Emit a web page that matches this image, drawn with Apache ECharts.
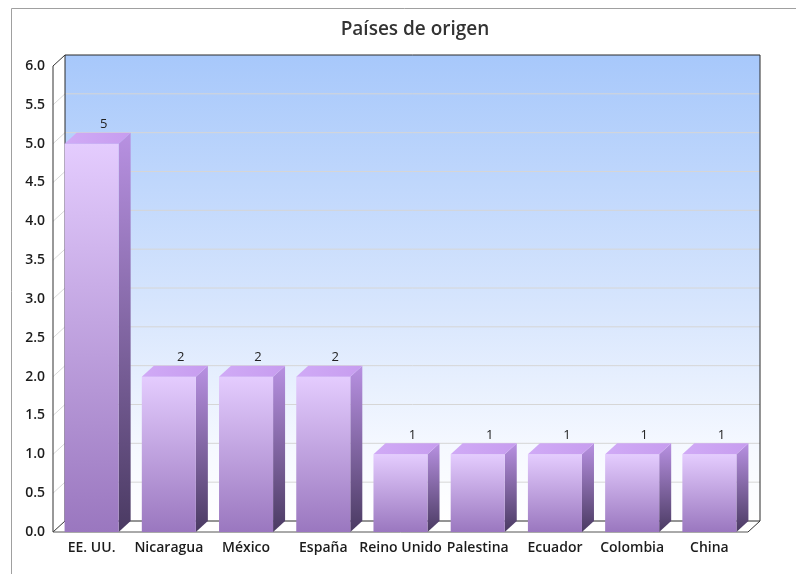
<!DOCTYPE html>
<html>
<head>
<meta charset="utf-8">
<script src="https://cdn.jsdelivr.net/npm/echarts@6/dist/echarts.min.js"></script>
<style>html,body{margin:0;padding:0;background:#fff}#c{width:796px;height:574px}</style>
</head>
<body>
<div id="c"></div>
<script>
const categories = ['EE. UU.', 'Nicaragua', 'México', 'España', 'Reino Unido', 'Palestina', 'Ecuador', 'Colombia', 'China'];
const values = [5, 2, 2, 2, 1, 1, 1, 1, 1];
const yTicks = [0, 0.5, 1, 1.5, 2, 2.5, 3, 3.5, 4, 4.5, 5, 5.5, 6];
const titleText = 'Países de origen';

const DX = 12, DY = -11;
const G = echarts.graphic;

function frameRender(params, api) {
  const cs = params.coordSys;
  const x0 = cs.x, x1 = cs.x + cs.width;
  const yBot = api.coord([0, 0])[1];
  const yTop = api.coord([0, 6])[1];
  const ch = [];
  ch.push({type: 'rect', shape: {x: x0 + DX, y: yTop + DY, width: x1 - x0, height: yBot - yTop},
    style: {fill: new G.LinearGradient(0, 0, 0, 1, [
      {offset: 0, color: '#a7c8fb'}, {offset: 0.55, color: '#d8e6fd'}, {offset: 0.85, color: '#f6f9ff'}, {offset: 1, color: '#ffffff'}]),
      stroke: null}});
  ch.push({type: 'polygon', shape: {points: [[x0, yTop], [x0 + DX, yTop + DY], [x0 + DX, yBot + DY], [x0, yBot]]},
    style: {fill: '#ffffff', stroke: null}});
  yTicks.forEach(function (v) {
    if (v === 0 || v === 6) return;
    const y = api.coord([0, v])[1];
    ch.push({type: 'line', shape: {x1: x0 + DX, y1: y + DY, x2: x1 + DX, y2: y + DY}, style: {stroke: '#d6d6d6', lineWidth: 1}});
    ch.push({type: 'line', shape: {x1: x0, y1: y, x2: x0 + DX, y2: y + DY}, style: {stroke: '#d9d9d9', lineWidth: 1}});
  });
  ch.push({type: 'polygon', shape: {points: [[x0, yBot], [x1, yBot], [x1 + DX, yBot + DY], [x0 + DX, yBot + DY]]},
    style: {fill: '#ffffff', stroke: null}});
  ch.push({type: 'rect', shape: {x: x0 + DX, y: yTop + DY, width: x1 - x0, height: yBot - yTop},
    style: {fill: null, stroke: '#2a2a2a', lineWidth: 1}});
  ch.push({type: 'line', shape: {x1: x0, y1: yTop, x2: x0 + DX, y2: yTop + DY}, style: {stroke: '#333', lineWidth: 1}});
  ch.push({type: 'line', shape: {x1: x0, y1: yBot, x2: x0 + DX, y2: yBot + DY}, style: {stroke: '#333', lineWidth: 1}});
  ch.push({type: 'line', shape: {x1: x1, y1: yBot, x2: x1 + DX, y2: yBot + DY}, style: {stroke: '#333', lineWidth: 1}});
  ch.push({type: 'line', shape: {x1: x0, y1: yTop, x2: x0, y2: yBot}, style: {stroke: '#333', lineWidth: 1}});
  ch.push({type: 'line', shape: {x1: x0, y1: yBot, x2: x1, y2: yBot}, style: {stroke: '#555', lineWidth: 1}});
  return {type: 'group', children: ch};
}

function barRender(params, api) {
  const idx = api.value(0);
  const val = api.value(1);
  const c = api.coord([idx, val]);
  const b = api.coord([idx, 0]);
  const w = api.size([1, 0])[0] * 0.7;
  const xa = c[0] - w / 2, xb = c[0] + w / 2;
  const yt = c[1], y0 = b[1];
  return {type: 'group', children: [
    {type: 'polygon', shape: {points: [[xb, yt], [xb + DX, yt + DY], [xb + DX, y0 + DY], [xb, y0]]},
      style: {fill: new G.LinearGradient(0, 0, 0, 1, [{offset: 0, color: '#b891e2'}, {offset: 1, color: '#4a3a62'}])}},
    {type: 'rect', shape: {x: xa, y: yt, width: w, height: y0 - yt},
      style: {fill: new G.LinearGradient(0, 0, 0, 1, [{offset: 0, color: '#e4ccfe'}, {offset: 1, color: '#9a77bf'}])}},
    {type: 'polygon', shape: {points: [[xa, yt], [xa + DX, yt + DY], [xb + DX, yt + DY], [xb, yt]]},
      style: {fill: new G.LinearGradient(0, 0, 1, 0, [{offset: 0, color: '#d0aaf6'}, {offset: 1, color: '#c79def'}])}},
    {type: 'text', style: {text: String(val), x: c[0] + DX, y: yt + DY - 2, align: 'center', verticalAlign: 'bottom',
      font: '500 13px "Open Sans"', fill: '#222'}}
  ]};
}

const chart = echarts.init(document.getElementById('c'), null, {renderer: 'canvas'});
chart.setOption({
  backgroundColor: '#ffffff',
  animation: false,
  title: {text: titleText, left: 410, textAlign: 'center', top: 15,
    textStyle: {fontFamily: 'Open Sans', fontSize: 19, fontWeight: 600, color: '#333'}},
  graphic: [{type: 'rect', shape: {x: 11.5, y: 8.5, width: 820, height: 600}, style: {fill: null, stroke: '#a0a0a0', lineWidth: 1}, z: 0}],
  grid: {left: 53, right: 48, top: 66, bottom: 42, containLabel: false},
  xAxis: {type: 'category', data: categories,
    axisLine: {show: false}, axisTick: {show: false},
    axisLabel: {interval: 0, margin: 9, fontFamily: 'Open Sans', fontSize: 14, fontWeight: 600, color: '#1c1c1c'}},
  yAxis: {type: 'value', min: 0, max: 6, interval: 0.5,
    axisLine: {show: false}, axisTick: {show: false}, splitLine: {show: false},
    axisLabel: {margin: 8, fontFamily: 'Open Sans', fontSize: 14, fontWeight: 600, color: '#1c1c1c',
      formatter: function (v) { return v.toFixed(1); }}},
  series: [
    {type: 'custom', z: 1, silent: true, clip: false, renderItem: frameRender, data: [[0, 0]]},
    {type: 'custom', z: 3, clip: false, renderItem: barRender,
      data: values.map(function (v, i) { return [i, v]; })}
  ]
});
</script>
</body>
</html>
